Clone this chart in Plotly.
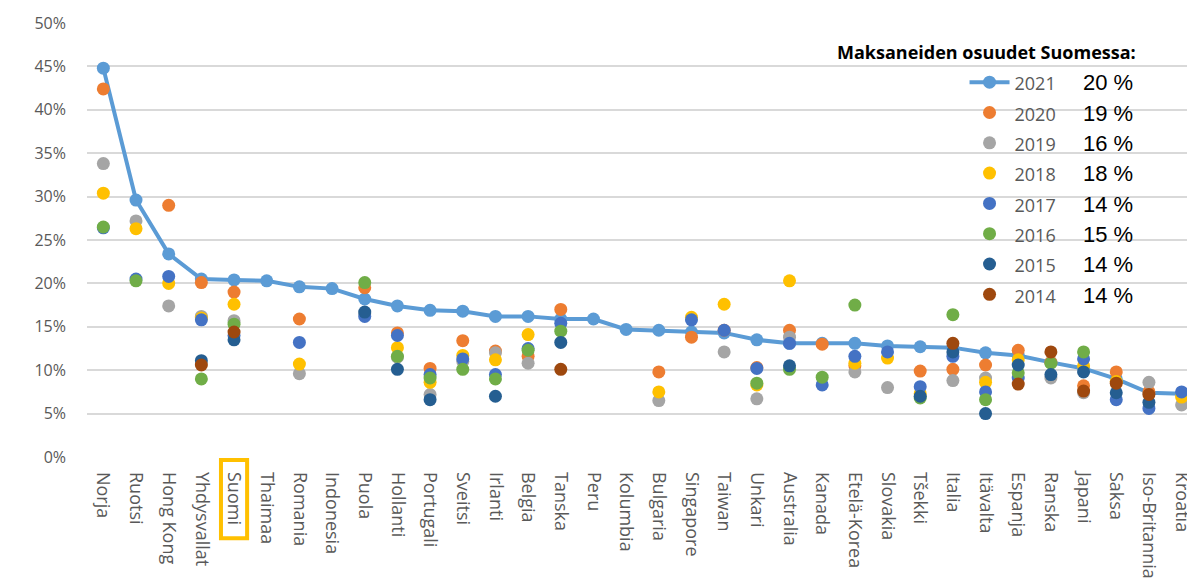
import plotly.graph_objects as go

countries = ["Norja", "Ruotsi", "Hong Kong", "Yhdysvallat", "Suomi", "Thaimaa", "Romania",
             "Indonesia", "Puola", "Hollanti", "Portugali", "Sveitsi", "Irlanti", "Belgia",
             "Tanska", "Peru", "Kolumbia", "Bulgaria", "Singapore", "Taiwan", "Unkari",
             "Australia", "Kanada", "Etelä-Korea", "Slovakia", "Tšekki", "Italia", "Itävalta",
             "Espanja", "Ranska", "Japani", "Saksa", "Iso-Britannia", "Kroatia"]

v2021 = [44.8, 29.6, 23.4, 20.5, 20.4, 20.3, 19.6, 19.4, 18.2, 17.4, 16.9, 16.8, 16.2, 16.2,
         15.9, 15.9, 14.7, 14.6, 14.4, 14.3, 13.5, 13.1, 13.1, 13.1, 12.8, 12.7, 12.6, 12.0,
         11.7, 10.9, 10.2, 9.0, 7.4, 7.3]
v2020 = [42.4, None, 29.0, 20.1, 19.0, None, 15.9, None, 19.5, 14.3, 10.2, 13.4, 12.2, 11.6,
         17.0, None, None, 9.8, 13.8, 14.6, 10.3, 14.6, 13.0, 10.5, None, 9.9, 10.1, 10.6,
         12.3, 10.9, 8.2, 9.8, 7.5, None]
v2019 = [33.8, 27.2, 17.4, 16.2, 15.7, None, 9.6, None, 16.5, 11.5, 7.2, 11.0, 12.0, 10.8,
         None, None, None, 6.5, None, 12.1, 6.7, 13.8, None, 9.8, 8.0, None, 8.8, 9.1,
         None, 9.1, 7.4, None, 8.6, 6.0]
v2018 = [30.4, 26.3, 20.0, 16.0, 17.6, None, 10.7, None, None, 12.6, 8.6, 11.7, 11.2, 14.1,
         None, None, None, 7.5, 16.1, 17.6, 8.3, 20.3, None, 10.8, 11.4, 7.3, None, 8.6,
         11.2, None, 10.5, 8.7, None, 6.9]
v2017 = [26.4, 20.5, 20.8, 15.8, 14.0, None, 13.2, None, 16.2, 14.0, 9.5, 11.3, 9.5, 12.5,
         15.4, None, None, None, 15.8, 14.6, 10.2, 13.1, 8.3, 11.6, 12.1, 8.1, 11.6, 7.5,
         9.1, None, 11.3, 6.6, 5.6, 7.5]
v2016 = [26.5, 20.3, None, 9.0, 15.3, None, None, None, 20.1, 11.6, 9.1, 10.1, 9.0, 12.3,
         14.5, None, None, None, None, None, 8.5, 10.1, 9.2, 17.5, None, 6.8, 16.4, 6.6,
         9.7, 10.8, 12.1, None, None, None]
v2015 = [None, None, None, 11.1, 13.5, None, None, None, 16.7, 10.1, 6.6, None, 7.0, None,
         13.2, None, None, None, None, None, None, 10.5, None, None, None, 7.0, 12.1, 5.0,
         10.6, 9.5, 9.8, 7.4, 6.3, None]
v2014 = [None, None, None, 10.6, 14.4, None, None, None, None, None, None, None, None, None,
         10.1, None, None, None, None, None, None, None, None, None, None, None, 13.1, None,
         8.4, 12.1, 7.6, 8.5, 7.2, None]

years = ["2021", "2020", "2019", "2018", "2017", "2016", "2015", "2014"]
series = [v2021, v2020, v2019, v2018, v2017, v2016, v2015, v2014]
colors = ["#5B9BD5", "#ED7D31", "#A5A5A5", "#FFC000", "#4472C4", "#70AD47", "#255E91", "#9E480E"]
finland_share = ["20 %", "19 %", "16 %", "18 %", "14 %", "15 %", "14 %", "14 %"]

legend_title = "Maksaneiden osuudet Suomessa:"
highlight = "Suomi"

fig = go.Figure()
for i, (yr, vals, col, share) in enumerate(zip(years, series, colors, finland_share)):
    name = ("<span style='font-size:18px'>" + yr + "</span>"
            + "&nbsp;&nbsp;&nbsp;&nbsp;&nbsp;"
            + "<span style='color:#000000;font-size:22px;font-family:Liberation Sans'>"
            + share + "</span>")
    if i == 0:
        fig.add_trace(go.Scatter(x=countries, y=vals, name=name, mode="lines+markers",
                                 line=dict(color=col, width=4),
                                 marker=dict(color=col, size=13)))
    else:
        fig.add_trace(go.Scatter(x=countries, y=vals, name=name, mode="markers",
                                 marker=dict(color=col, size=13)))

hi = countries.index(highlight)
fig.add_shape(type="rect", xref="x", yref="paper", x0=hi - 0.4, x1=hi + 0.4,
              y0=-0.007, y1=-0.187, line=dict(color="#FFC000", width=4),
              fillcolor="rgba(0,0,0,0)")

fig.add_annotation(text="<b>" + legend_title + "</b>", xref="paper", yref="paper",
                   x=0.9486, y=0.933, xanchor="right", yanchor="middle", showarrow=False,
                   font=dict(family="Open Sans", size=18, color="#000000"))

fig.update_layout(
    width=1187, height=575, autosize=False,
    margin=dict(l=79, r=0, t=15, b=126),
    plot_bgcolor="white", paper_bgcolor="white",
    font=dict(family="Open Sans", color="#595959"),
    showlegend=True,
    legend=dict(x=0.792, y=0.910, xanchor="left", yanchor="top",
                font=dict(family="Open Sans", size=21, color="#595959"),
                itemwidth=40, bgcolor="rgba(0,0,0,0)", tracegroupgap=0),
    xaxis=dict(type="category", range=[-0.5, 33.41], tickangle=90,
               tickfont=dict(size=18, color="#595959"), showgrid=False,
               showline=False, zeroline=False, ticklabelstandoff=14, automargin=False),
    yaxis=dict(range=[0, 50], dtick=5, ticksuffix="%", showgrid=True,
               gridcolor="#D9D9D9", gridwidth=1.5, zeroline=False, automargin=False,
               tickfont=dict(size=16, color="#595959"), ticklabelstandoff=20),
)

fig.write_html("out.html")
